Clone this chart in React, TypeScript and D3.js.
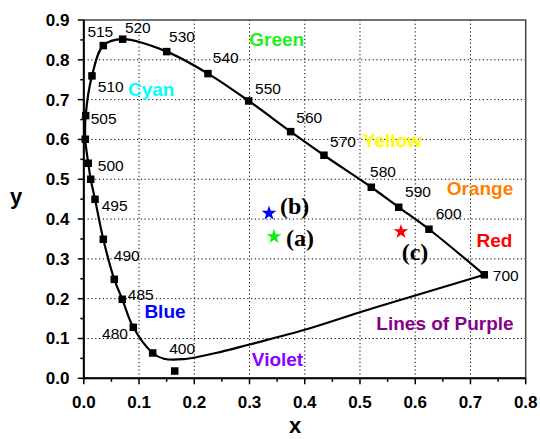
import React from "react";
import * as d3 from "d3";

// Spectral locus sample points (chromaticity x, y)
const locusX = [0.1247, 0.0896, 0.0697, 0.0552, 0.0353, 0.0203, 0.0125, 0.0081, 0.0027, 0.0034, 0.0148, 0.0353, 0.0704, 0.1501, 0.2248, 0.2985, 0.3745, 0.4348, 0.5205, 0.5701, 0.6249, 0.725];
const locusY = [0.0636, 0.1281, 0.1985, 0.2487, 0.3492, 0.4497, 0.5, 0.5402, 0.6005, 0.6598, 0.7596, 0.8357, 0.8518, 0.8206, 0.7653, 0.6967, 0.6196, 0.5603, 0.4799, 0.4296, 0.3744, 0.26];

// Isolated 400 nm sample
const extraX = [0.1646];
const extraY = [0.0183];

// Line of purples, traced from 700 nm back to the blue end
const purpleX = [0.725, 0.6, 0.5, 0.4, 0.3, 0.25, 0.18, 0.145, 0.1247];
const purpleY = [0.26, 0.208, 0.166, 0.122, 0.085, 0.067, 0.048, 0.049, 0.0636];

// Wavelength annotations (nm)
const waveLabels = ["400", "480", "485", "490", "495", "500", "505", "510", "515", "520", "530", "540", "550", "560", "570", "580", "590", "600", "700"];
const waveX = [0.1781, 0.0565, 0.1032, 0.0777, 0.0559, 0.0489, 0.036, 0.0489, 0.0299, 0.0978, 0.1778, 0.2569, 0.3335, 0.4082, 0.4692, 0.5416, 0.605, 0.6606, 0.7639];
const waveY = [0.0603, 0.0987, 0.1967, 0.2955, 0.4204, 0.5216, 0.6382, 0.7201, 0.8568, 0.8668, 0.8457, 0.7915, 0.7143, 0.6422, 0.5819, 0.505, 0.4548, 0.4003, 0.2452];

// Colour region names
const regionNames = ["Green", "Cyan", "Yellow", "Orange", "Red", "Blue", "Violet", "Lines of Purple"];
const regionX = [0.3492, 0.122, 0.5585, 0.7172, 0.7435, 0.147, 0.3507, 0.6539];
const regionY = [0.8349, 0.708, 0.5812, 0.4606, 0.3299, 0.1515, 0.0309, 0.1214];
const regionColors = ["#22ee22", "#00ffff", "#ffff00", "#ff8000", "#ff0000", "#0000ff", "#8800ff", "#880088"];

// Measured samples
const sampleNames = ["(a)", "(b)", "(c)"];
const sampleX = [0.3443, 0.3353, 0.5742];
const sampleY = [0.3558, 0.4146, 0.3683];
const sampleColors = ["#11ee11", "#0000ff", "#ff0000"];
const sampleLabelX = [0.3914, 0.3818, 0.5996];
const sampleLabelY = [0.3312, 0.4128, 0.2972];

const xTicks = [0, 0.1, 0.2, 0.3, 0.4, 0.5, 0.6, 0.7, 0.8];
const yTicks = [0, 0.1, 0.2, 0.3, 0.4, 0.5, 0.6, 0.7, 0.8, 0.9];

export default function App() {
  const W = 540;
  const H = 439;
  const x = d3.scaleLinear().domain([0, 0.8]).range([83.8, 525.7]);
  const y = d3.scaleLinear().domain([0, 0.9]).range([378.3, 20]);

  const pts: [number, number][] = [
    ...purpleX.map((v, i) => [v, purpleY[i]] as [number, number]),
    ...locusX.slice(1).map((v, i) => [v, locusY[i + 1]] as [number, number]),
  ];
  const line = d3
    .line<[number, number]>()
    .x((d) => x(d[0]))
    .y((d) => y(d[1]))
    .curve(d3.curveCatmullRom.alpha(0.5));
  const curvePath = line(pts) || "";

  const star = d3.symbol().type(d3.symbolStar).size(68)() || "";

  const minorX = d3.range(0, 0.8001, 0.05);
  const minorY = d3.range(0, 0.9001, 0.05);
  const sq = 7.5;
  const sqX = [...locusX, ...extraX];
  const sqY = [...locusY, ...extraY];

  const sans = "'Liberation Sans', Arial, Helvetica, sans-serif";

  return (
    <svg width={W} height={H} style={{ position: "absolute", left: 0, top: 0, background: "#fff" }}>
      {/* grid */}
      <g stroke="#000" strokeWidth={1} strokeDasharray="1.2,2.6">
        {xTicks.slice(1, -1).map((t) => (
          <line key={"gx" + t} x1={x(t)} x2={x(t)} y1={y(0)} y2={y(0.9)} />
        ))}
        {yTicks.slice(1, -1).map((t) => (
          <line key={"gy" + t} x1={x(0)} x2={x(0.8)} y1={y(t)} y2={y(t)} />
        ))}
      </g>
      {/* frame */}
      <rect x={x(0)} y={y(0.9)} width={x(0.8) - x(0)} height={y(0) - y(0.9)} fill="none" stroke="#444" strokeWidth={1.5} />
      <line x1={x(0)} x2={x(0)} y1={y(0.9)} y2={y(0) + 1} stroke="#000" strokeWidth={2} />
      <line x1={x(0) - 1} x2={x(0.8)} y1={y(0)} y2={y(0)} stroke="#000" strokeWidth={2} />
      {/* ticks */}
      <g stroke="#000" strokeWidth={1.5}>
        {minorX.map((t, i) => (
          <line key={"tx" + i} x1={x(t)} x2={x(t)} y1={y(0)} y2={y(0) + (i % 2 === 0 ? 6 : 3.5)} />
        ))}
        {minorY.map((t, i) => (
          <line key={"ty" + i} x1={x(0)} x2={x(0) - (i % 2 === 0 ? 6 : 3.5)} y1={y(t)} y2={y(t)} />
        ))}
      </g>
      <g fontFamily={sans} fontWeight="bold" fontSize={17} fill="#000">
        {xTicks.map((t) => (
          <text key={"lx" + t} x={x(t)} y={408} textAnchor="middle">
            {t.toFixed(1)}
          </text>
        ))}
        {yTicks.map((t) => (
          <text key={"ly" + t} x={69.5} y={y(t) + 6} textAnchor="end">
            {t.toFixed(1)}
          </text>
        ))}
      </g>
      <text x={295} y={433} textAnchor="middle" fontFamily={sans} fontWeight="bold" fontSize={22}>
        x
      </text>
      <text x={16} y={204} textAnchor="middle" fontFamily={sans} fontWeight="bold" fontSize={22}>
        y
      </text>

      {/* locus curve */}
      <path d={curvePath} fill="none" stroke="#000" strokeWidth={2.2} strokeLinejoin="round" />
      {sqX.map((v, i) => (
        <rect key={"sq" + i} x={x(v) - sq / 2} y={y(sqY[i]) - sq / 2} width={sq} height={sq} fill="#000" />
      ))}

      {/* wavelength labels */}
      <g fontFamily={sans} fontSize={15.5} fill="#000">
        {waveLabels.map((w, i) => (
          <text key={"w" + w} x={x(waveX[i])} y={y(waveY[i])} textAnchor="middle">
            {w}
          </text>
        ))}
      </g>

      {/* colour regions */}
      <g fontFamily={sans} fontWeight="bold" fontSize={19}>
        {regionNames.map((n, i) => (
          <text key={n} x={x(regionX[i])} y={y(regionY[i])} textAnchor="middle" fill={regionColors[i]}>
            {n}
          </text>
        ))}
      </g>

      {/* samples */}
      {sampleX.map((v, i) => (
        <path key={"st" + i} d={star} transform={`translate(${x(v)},${y(sampleY[i])})`} fill={sampleColors[i]} />
      ))}
      <g fontFamily="'Liberation Serif', 'Times New Roman', serif" fontWeight="bold" fontSize={24} fill="#000">
        {sampleNames.map((n, i) => (
          <text key={n} x={x(sampleLabelX[i])} y={y(sampleLabelY[i])} textAnchor="middle">
            {n}
          </text>
        ))}
      </g>
    </svg>
  );
}
